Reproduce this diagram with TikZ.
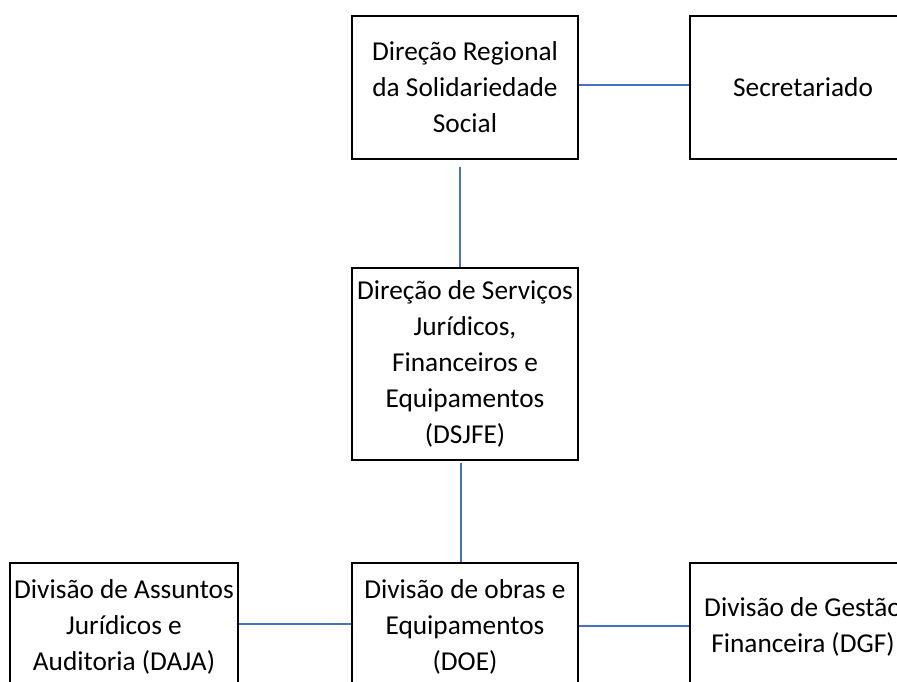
\documentclass[tikz,border=0pt]{standalone}
\usepackage{fontspec}
\setmainfont{Carlito}
\definecolor{linkblue}{RGB}{68,114,196}
\tikzset{
  unit/.style={draw=black,line width=2pt,inner sep=0pt,align=center,
    minimum width=226pt,minimum height=143pt,font=\fontsize{27.3}{36}\selectfont},
  link/.style={draw=linkblue,line width=1.5pt}
}
\begin{document}
\begin{tikzpicture}[x=1pt,y=-1pt]
\useasboundingbox (0,0) rectangle (897,682);
\clip (0,0) rectangle (897,682);
\node[unit] (Ndir) at (465,87.5) {Direção Regional\\da Solidariedade\\Social};
\node[unit] (Nsec) at (803,87.5) {Secretariado};
\node[unit,minimum height=192pt] (Ndsjfe) at (465,364) {Direção de Serviços\\Jurídicos,\\Financeiros e\\Equipamentos\\(DSJFE)};
\node[unit,minimum width=228pt,minimum height=128pt] (Ndaja) at (124,627) {Divisão de Assuntos\\Jurídicos e\\Auditoria (DAJA)};
\node[unit,minimum height=128pt] (Ndoe) at (465,627) {Divisão de obras e\\Equipamentos\\(DOE)};
\node[unit,minimum height=128pt] (Ndgf) at (803,627) {Divisão de Gestão\\Financeira (DGF)};
\draw[link] ([yshift=2.5pt]Ndir.east) -- ([yshift=2.5pt]Nsec.west);
\draw[link] ([xshift=-5pt,yshift=-7pt]Ndir.south) -- ([xshift=-5pt]Ndsjfe.north);
\draw[link] ([xshift=-4pt,yshift=-2pt]Ndsjfe.south) -- ([xshift=-4pt]Ndoe.north);
\draw[link] ([yshift=3pt]Ndaja.east) -- ([yshift=3pt]Ndoe.west);
\draw[link] ([yshift=1pt]Ndoe.east) -- ([yshift=1pt]Ndgf.west);
\end{tikzpicture}
\end{document}
